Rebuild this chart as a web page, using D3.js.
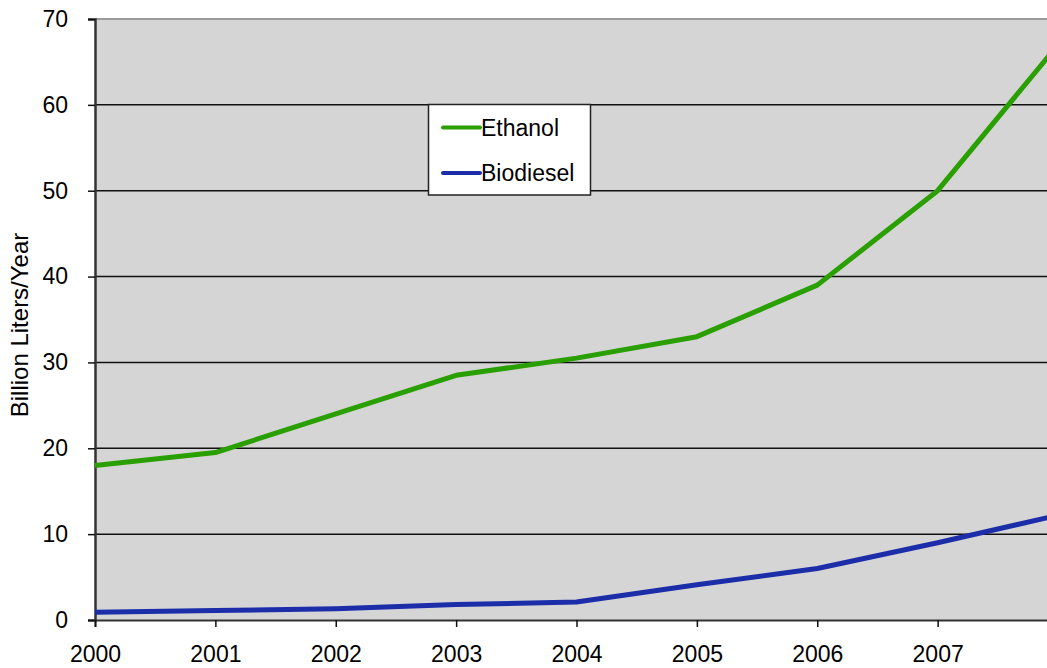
<!DOCTYPE html>
<html>
<head>
<meta charset="utf-8">
<script src="https://cdn.jsdelivr.net/npm/d3@7"></script>
<style>
  html, body { margin: 0; padding: 0; background: #fff; }
  svg { display: block; }
  text { font-family: "Liberation Sans", Arial, sans-serif; fill: #000; }
</style>
</head>
<body>
<svg id="chart" width="1047" height="668"></svg>
<script>
// Annual production, billion liters per year
const years = [2000, 2001, 2002, 2003, 2004, 2005, 2006, 2007, 2008];
const ethanol = [18, 19.5, 24, 28.5, 30.5, 33, 39, 50, 67];
const biodiesel = [0.9, 1.1, 1.3, 1.8, 2.1, 4.1, 6, 9, 12.2];
const yTicks = [0, 10, 20, 30, 40, 50, 60, 70];
const xTickYears = [2000, 2001, 2002, 2003, 2004, 2005, 2006, 2007];
const seriesNames = ["Ethanol", "Biodiesel"];
const seriesColors = ["#2a9f00", "#1c2daa"];

const svg = d3.select("#chart");
const plotLeft = 95, plotRight = 1058, plotTop = 19, plotBottom = 620;

const x = d3.scaleLinear().domain([2000, 2008]).range([plotLeft, plotRight]);
const y = d3.scaleLinear().domain([0, 70]).range([plotBottom, plotTop]);

// plot background
svg.append("rect")
  .attr("x", plotLeft).attr("y", plotTop)
  .attr("width", plotRight - plotLeft).attr("height", plotBottom - plotTop)
  .attr("fill", "#d5d5d5");

// horizontal gridlines
svg.append("g")
  .selectAll("line")
  .data(yTicks.filter(v => v > 0))
  .join("line")
  .attr("x1", plotLeft).attr("x2", plotRight)
  .attr("y1", d => y(d)).attr("y2", d => y(d))
  .attr("stroke", d => d === 70 ? "#9a9a9a" : "#111")
  .attr("stroke-width", d => d === 70 ? 2 : 1.5);

// y axis
const yAxis = svg.append("g")
  .attr("transform", `translate(${plotLeft},0)`)
  .call(d3.axisLeft(y).tickValues(yTicks).tickSize(7).tickPadding(20).tickFormat(d3.format("d")));
yAxis.select(".domain").attr("stroke", "#333").attr("stroke-width", 2.5);
yAxis.selectAll(".tick line").attr("stroke", "#111").attr("stroke-width", 1.5);
yAxis.selectAll(".tick text")
  .style("font-family", '"Liberation Sans", Arial, sans-serif')
  .style("font-size", "23px").attr("fill", "#000");

// x axis
const xAxis = svg.append("g")
  .attr("transform", `translate(0,${plotBottom})`)
  .call(d3.axisBottom(x).tickValues(xTickYears).tickSize(7).tickPadding(19).tickFormat(d3.format("d")));
xAxis.select(".domain").attr("stroke", "#333").attr("stroke-width", 2);
xAxis.selectAll(".tick line").attr("stroke", "#111").attr("stroke-width", 1.5);
xAxis.selectAll(".tick text")
  .style("font-family", '"Liberation Sans", Arial, sans-serif')
  .style("font-size", "23px").attr("fill", "#000");

// y axis title
svg.append("text")
  .attr("transform", "translate(28,325) rotate(-90)")
  .attr("text-anchor", "middle")
  .style("font-size", "24px")
  .text("Billion Liters/Year");

// series lines
const line = d3.line().x((d, i) => x(years[i])).y(d => y(d));
[ethanol, biodiesel].forEach((vals, k) => {
  svg.append("path")
    .datum(vals)
    .attr("d", line)
    .attr("fill", "none")
    .attr("stroke", seriesColors[k])
    .attr("stroke-width", 5)
    .attr("stroke-linejoin", "round");
});

// legend
const legend = svg.append("g");
legend.append("rect")
  .attr("x", 428.5).attr("y", 104.5)
  .attr("width", 162).attr("height", 90.5)
  .attr("fill", "#fff").attr("stroke", "#222").attr("stroke-width", 1.5);
seriesNames.forEach((name, k) => {
  const cy = 127.5 + k * 45.5;
  legend.append("line")
    .attr("x1", 443).attr("x2", 480)
    .attr("y1", cy).attr("y2", cy)
    .attr("stroke", seriesColors[k]).attr("stroke-width", 4)
    .attr("stroke-linecap", "round");
  legend.append("text")
    .attr("x", 481).attr("y", cy + 8)
    .style("font-size", "23px")
    .text(name);
});
</script>
</body>
</html>
